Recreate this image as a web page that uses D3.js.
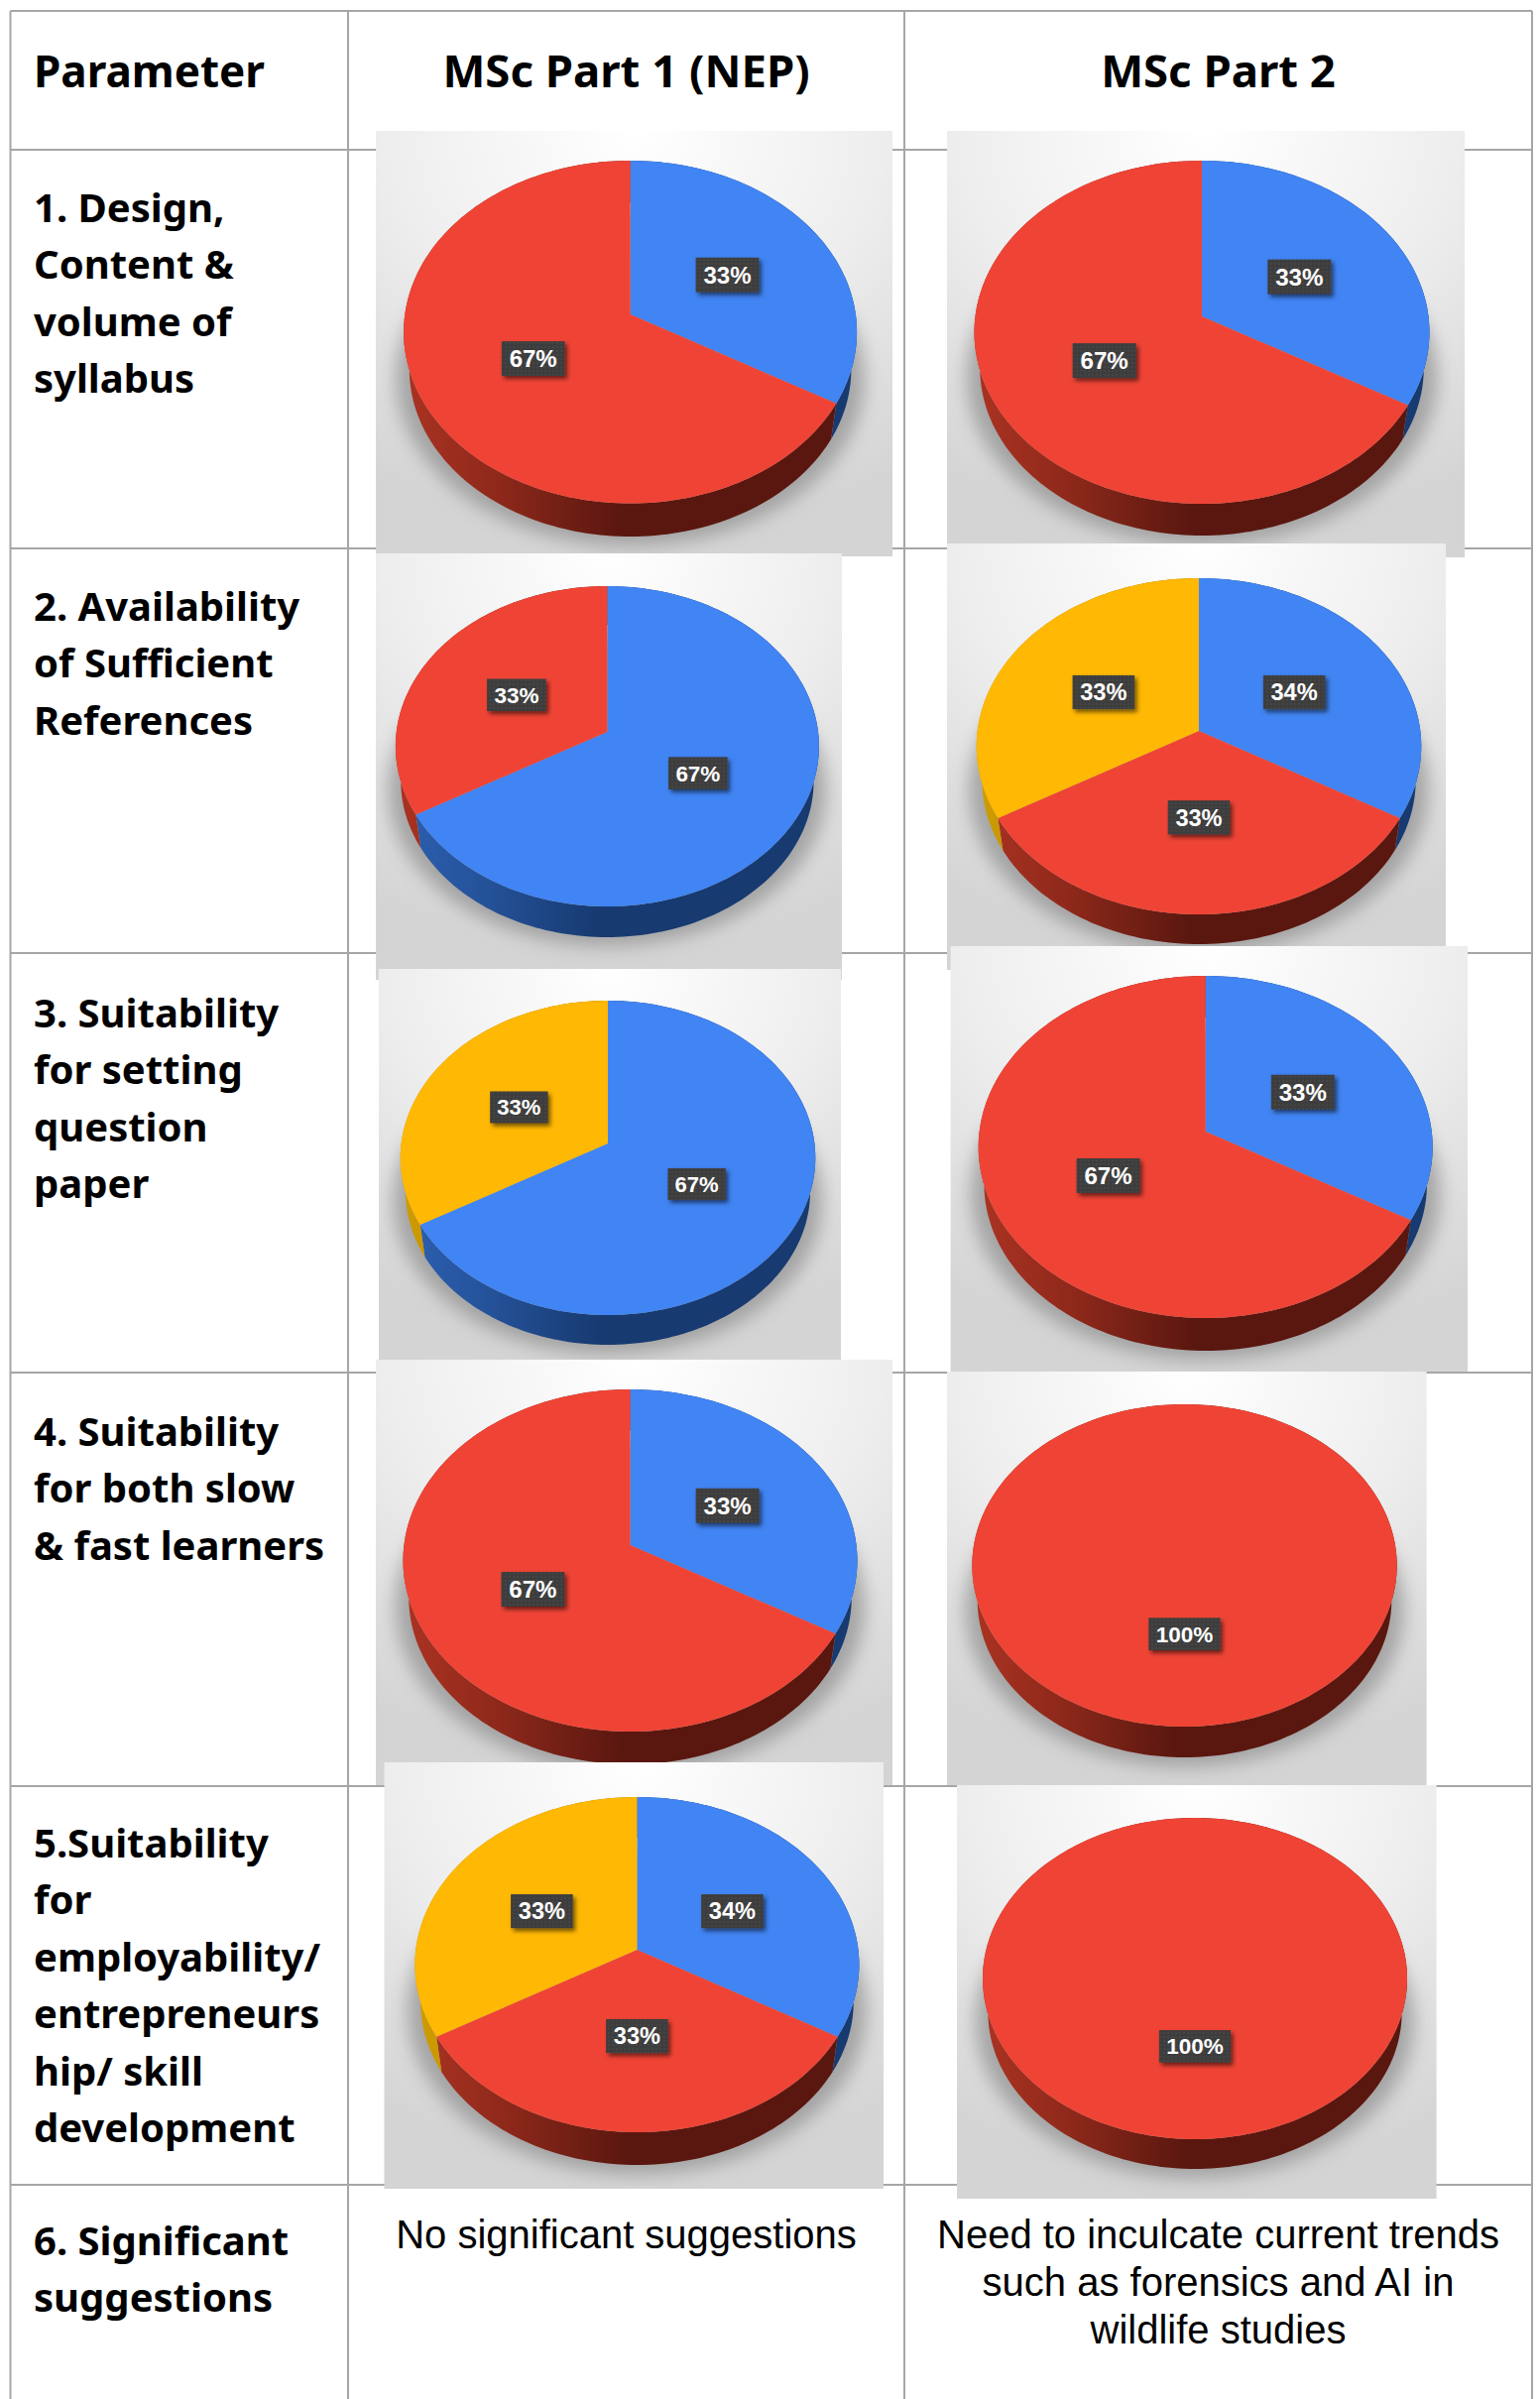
<!DOCTYPE html>
<html>
<head>
<meta charset="utf-8">
<style>
  body { margin: 0; background: #fff; }
  svg { display: block; }
</style>
</head>
<body>
<svg id="chart"></svg>
<script src="https://cdn.jsdelivr.net/npm/d3@7"></script>
<script>
// shares, order is [blue, red, yellow]
const sliceNames = ['blue', 'red', 'yellow'];
const part1Values = [[33.3, 66.7, 0], [66.7, 33.3, 0], [66.7, 0, 33.3], [33.3, 66.7, 0], [33.3, 33.3, 33.3]];
const part2Values = [[33.3, 66.7, 0], [33.3, 33.3, 33.3], [33.3, 66.7, 0], [0, 100, 0], [0, 100, 0]];
// printed labels, the three way splits are printed 34/33/33
const part1Labels = [['33%', '67%', ''], ['67%', '33%', ''], ['67%', '', '33%'], ['33%', '67%', ''], ['34%', '33%', '33%']];
const part2Labels = [['33%', '67%', ''], ['34%', '33%', '33%'], ['33%', '67%', ''], ['', '100%', ''], ['', '100%', '']];

const headers = ['Parameter', 'MSc Part 1 (NEP)', 'MSc Part 2'];
const rowLabels = [
  ['1. Design,', 'Content &', 'volume of', 'syllabus'],
  ['2. Availability', 'of Sufficient', 'References'],
  ['3. Suitability', 'for setting', 'question', 'paper'],
  ['4. Suitability', 'for both slow', '& fast learners'],
  ['5.Suitability', 'for', 'employability/', 'entrepreneurs', 'hip/ skill', 'development'],
  ['6. Significant', 'suggestions']
];
const suggestion1 = ['No significant suggestions'];
const suggestion2 = ['Need to inculcate current trends', 'such as forensics and AI in', 'wildlife studies'];

const width = 1553;
const height = 2419;
const colLines = [10.5, 351, 912, 1545];
const rowLines = [11, 151, 553, 961, 1384, 1801, 2203, 2419];
const rowBaselines = [224, 626, 1036, 1458, 1873, 2274];

// box is the pasted picture, the rest is the disc outline
const part1Boxes = [
  { box: [379, 132, 900, 561], cx: 635.6, left: 407, right: 864, top: 162, apex: 317, bottom: 507.6, wall: 541 },
  { box: [379, 558, 849, 988], cx: 612.4, left: 398, right: 825, top: 591, apex: 738, bottom: 914, wall: 945 },
  { box: [382, 977, 848, 1372], cx: 613, left: 404, right: 822.5, top: 1009, apex: 1153, bottom: 1326, wall: 1356 },
  { box: [379, 1371, 900, 1800], cx: 635.5, left: 407, right: 865, top: 1401, apex: 1558, bottom: 1746, wall: 1779 },
  { box: [387.5, 1777, 891, 2207], cx: 642.4, left: 418, right: 866, top: 1812, apex: 1966, bottom: 2150, wall: 2183 }
];
const part2Boxes = [
  { box: [955, 132, 1477, 562], cx: 1212, left: 983, right: 1442, top: 162, apex: 319, bottom: 508, wall: 540 },
  { box: [955, 548, 1458, 978], cx: 1209, left: 985, right: 1433.5, top: 583, apex: 737, bottom: 922, wall: 952 },
  { box: [958.6, 954, 1480, 1383], cx: 1215.7, left: 987, right: 1445, top: 984, apex: 1141, bottom: 1329, wall: 1362 },
  { box: [955, 1383, 1438.6, 1800], cx: 1194.5, left: 980.7, right: 1409, top: 1416, apex: 1564, bottom: 1741, wall: 1772 },
  { box: [965, 1800, 1448.6, 2217], cx: 1205, left: 991, right: 1419, top: 1833, apex: 1980, bottom: 2157, wall: 2187 }
];

const color = d3.scaleOrdinal().domain(sliceNames).range(['#4184f3', '#ef4435', '#ffb803']);
const wallLight = d3.scaleOrdinal().domain(sliceNames).range(['#2d60b2', '#ab3322', '#cf9c02']);
const wallDark = d3.scaleOrdinal().domain(sliceNames).range(['#173a70', '#5a170f', '#8f6c00']);

const svg = d3.select('#chart').attr('width', width).attr('height', height)
  .attr('viewBox', `0 0 ${width} ${height}`);
const defs = svg.append('defs');

const bgGrad = defs.append('radialGradient').attr('id', 'bg')
  .attr('cx', 0.5).attr('cy', 0).attr('r', 0.95);
[[0, '#ffffff'], [0.5, '#eeeeee'], [0.8, '#dedede'], [1, '#d4d4d4']].forEach(s => {
  bgGrad.append('stop').attr('offset', s[0]).attr('stop-color', s[1]);
});
defs.append('filter').attr('id', 'blur').attr('x', '-20%').attr('y', '-20%')
  .attr('width', '140%').attr('height', '140%')
  .append('feGaussianBlur').attr('stdDeviation', 9);
const boxShadow = defs.append('filter').attr('id', 'labelShadow')
  .attr('x', '-20%').attr('y', '-20%').attr('width', '150%').attr('height', '150%');
boxShadow.append('feDropShadow').attr('dx', 2.5).attr('dy', 3).attr('stdDeviation', 2)
  .attr('flood-color', '#000').attr('flood-opacity', 0.55);
const dots = defs.append('pattern').attr('id', 'dots').attr('width', 4).attr('height', 4)
  .attr('patternUnits', 'userSpaceOnUse');
dots.append('rect').attr('width', 4).attr('height', 4).attr('fill', '#3c3c3c');
dots.append('circle').attr('cx', 2).attr('cy', 2).attr('r', 0.7).attr('fill', '#555');

// table grid goes under the pictures
const grid = svg.append('g').attr('stroke', '#a6a6a6').attr('stroke-width', 2);
colLines.forEach(x => {
  grid.append('line').attr('x1', x).attr('x2', x).attr('y1', rowLines[0]).attr('y2', height);
});
rowLines.slice(0, -1).forEach(y => {
  grid.append('line').attr('x1', colLines[0]).attr('x2', colLines[3]).attr('y1', y).attr('y2', y);
});

const pie = d3.pie().sort(null).value(d => d.value);
const centroidArc = d3.arc().innerRadius(0).outerRadius(1);
const line = d3.line();

function drawPie(values, labels, layout, id) {
  const { box, cx, left, right, top, apex, bottom, wall } = layout;

  // the disc is tilted, near side a bit larger, so the apex is not the ellipse centre
  const r = (bottom - apex) / (apex - top);
  const q = (r - 1) / (r + 1);
  const b = (bottom - apex) * (1 - q);
  const a = (right - left) / 2 * Math.sqrt(1 - q * q);
  const project = t => {
    const u = Math.sin(t);
    const v = -Math.cos(t);
    const w = 1 - q * v;
    return [cx + a * u / w, apex + b * v / w];
  };
  // lower rim: slightly smaller copy of the top edge
  const s = 0.975;
  const dy = wall - apex - (bottom - apex) * s;
  const lower = p => [cx + (p[0] - cx) * s, apex + (p[1] - apex) * s + dy];
  const arcPoints = (t0, t1) => {
    const n = Math.max(2, Math.ceil((t1 - t0) * 40));
    return d3.range(n + 1).map(i => project(t0 + (t1 - t0) * i / n));
  };

  const slices = pie(sliceNames.map((name, i) => ({ name, value: values[i], label: labels[i] })))
    .filter(d => d.value > 0);

  const g = svg.append('g');
  defs.append('clipPath').attr('id', `clip${id}`).append('rect')
    .attr('x', box[0]).attr('y', box[1]).attr('width', box[2] - box[0]).attr('height', box[3] - box[1]);
  g.append('rect')
    .attr('x', box[0]).attr('y', box[1]).attr('width', box[2] - box[0]).attr('height', box[3] - box[1])
    .attr('fill', 'url(#bg)');

  // soft shadow below the disc
  const rim = arcPoints(0, Math.PI * 2).map(lower);
  const shadow = rim.map(p => [cx + (p[0] - cx) * 1.06, p[1] + 9]);
  g.append('g').attr('clip-path', `url(#clip${id})`).append('path')
    .attr('d', line(shadow) + 'Z')
    .attr('fill', '#8c8c8c').attr('opacity', 0.7).attr('filter', 'url(#blur)');

  // side walls
  slices.forEach(d => {
    const name = d.data.name;
    const gradId = `wall${id}${name}`;
    const grad = defs.append('linearGradient').attr('id', gradId)
      .attr('gradientUnits', 'userSpaceOnUse')
      .attr('x1', left).attr('x2', right).attr('y1', 0).attr('y2', 0);
    [[0, wallLight(name)], [0.2, d3.interpolateRgb(wallLight(name), wallDark(name))(0.35)],
      [0.48, wallDark(name)], [1, wallDark(name)]].forEach(st => {
      grad.append('stop').attr('offset', st[0]).attr('stop-color', st[1]);
    });
    const pts = arcPoints(d.startAngle, d.endAngle);
    g.append('path')
      .attr('d', line(pts.concat(pts.map(lower).reverse())) + 'Z')
      .attr('fill', `url(#${gradId})`);
  });

  // top faces
  slices.forEach(d => {
    const pts = arcPoints(d.startAngle, d.endAngle);
    if (d.endAngle - d.startAngle < Math.PI * 2 - 1e-6) pts.unshift([cx, apex]);
    g.append('path').attr('d', line(pts) + 'Z').attr('fill', color(d.data.name));
  });

  // data labels
  const rx = (right - left) / 2;
  const ry = (bottom - top) / 2;
  const fontSize = 24 * rx / 228;
  slices.forEach(d => {
    const c = centroidArc.centroid(d);
    const lx = cx + c[0] * rx * 0.99;
    const ly = apex + c[1] * ry * (c[1] > 0 ? 1.03 : 0.92);
    const label = g.append('g');
    const rect = label.append('rect').attr('fill', 'url(#dots)').attr('filter', 'url(#labelShadow)');
    const text = label.append('text')
      .attr('x', lx).attr('y', ly + fontSize * 0.35)
      .attr('text-anchor', 'middle')
      .attr('font-family', '"Liberation Sans", Arial, sans-serif')
      .attr('font-weight', 700)
      .attr('font-size', fontSize)
      .attr('fill', '#fff')
      .text(d.data.label);
    const w = text.node().getComputedTextLength() + fontSize * 0.65;
    const h = fontSize * 1.45;
    rect.attr('x', lx - w / 2).attr('y', ly - h / 2).attr('width', w).attr('height', h);
  });
}

part1Values.forEach((v, i) => drawPie(v, part1Labels[i], part1Boxes[i], `a${i}`));
part2Values.forEach((v, i) => drawPie(v, part2Labels[i], part2Boxes[i], `b${i}`));

// table text
const boldFont = '"Noto Sans", "Open Sans", sans-serif';
const textLayer = svg.append('g').attr('fill', '#000');

textLayer.selectAll('text.head').data(headers).enter().append('text')
  .attr('class', 'head')
  .attr('x', (d, i) => i === 0 ? 34 : (colLines[i] + colLines[i + 1]) / 2)
  .attr('y', 88)
  .attr('text-anchor', (d, i) => i === 0 ? 'start' : 'middle')
  .attr('font-family', boldFont).attr('font-weight', 700)
  .attr('font-size', (d, i) => i === 0 ? 44 : 45.5)
  .text(d => d);

rowLabels.forEach((lines, i) => {
  lines.forEach((t, j) => {
    textLayer.append('text')
      .attr('x', 34).attr('y', rowBaselines[i] + j * 57.4)
      .attr('font-family', boldFont).attr('font-weight', 700).attr('font-size', 40)
      .text(t);
  });
});

function suggestion(lines, x) {
  lines.forEach((t, j) => {
    textLayer.append('text')
      .attr('x', x).attr('y', 2267 + j * 48)
      .attr('text-anchor', 'middle')
      .attr('font-family', '"Liberation Sans", Arial, sans-serif')
      .attr('font-size', 40)
      .text(t);
  });
}
suggestion(suggestion1, (colLines[1] + colLines[2]) / 2);
suggestion(suggestion2, (colLines[2] + colLines[3]) / 2);
</script>
</body>
</html>
